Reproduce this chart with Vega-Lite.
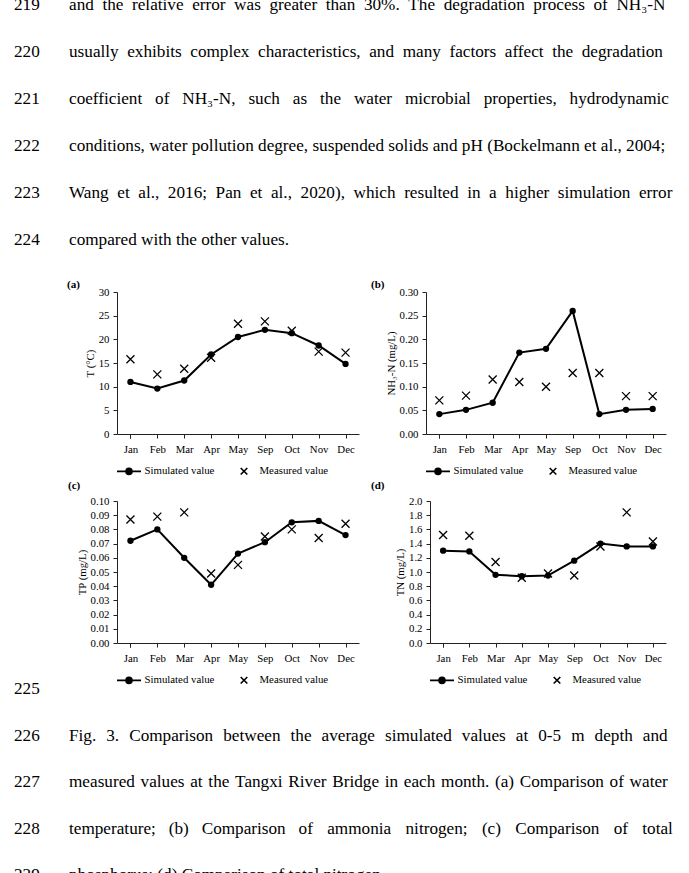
{
  "$schema": "https://vega.github.io/schema/vega-lite/v6.json",
  "padding": {"left": 14, "top": -5, "right": 0, "bottom": 0},
  "autosize": {"type": "pad"},
  "background": "white",
  "config": {
    "font": "Liberation Serif",
    "view": {"stroke": null},
    "axis": {
      "domainColor": "#222", "tickColor": "#222", "labelColor": "#000", "titleColor": "#000",
      "labelFont": "Liberation Serif", "titleFont": "Liberation Serif",
      "labelFontSize": 10.8, "titleFontSize": 10.8, "titleFontWeight": "normal",
      "grid": false, "tickSize": 4, "labelPadding": 4, "titlePadding": 3
    },
    "axisX": {"labelAngle": 0, "tickBand": "extent", "title": null, "labelPadding": 5},
    "legend": {
      "orient": "bottom", "direction": "horizontal", "title": null,
      "labelFont": "Liberation Serif", "labelFontSize": 10.8, "labelColor": "#000",
      "symbolSize": 144, "labelOffset": 8.5, "columnPadding": 22, "offset": 5, "padding": 5,
      "symbolStrokeColor": "black", "symbolStrokeWidth": 1.6
    },
    "title": {"font": "Liberation Serif", "color": "#000", "fontWeight": "normal"},
    "concat": {"spacing": 12}
  },
  "datasets": {
    "T": [
      {"month": "Jan", "series": "Simulated value", "value": 11.0},
      {"month": "Feb", "series": "Simulated value", "value": 9.6},
      {"month": "Mar", "series": "Simulated value", "value": 11.3},
      {"month": "Apr", "series": "Simulated value", "value": 16.8},
      {"month": "May", "series": "Simulated value", "value": 20.5},
      {"month": "Sep", "series": "Simulated value", "value": 22.0},
      {"month": "Oct", "series": "Simulated value", "value": 21.3},
      {"month": "Nov", "series": "Simulated value", "value": 18.7},
      {"month": "Dec", "series": "Simulated value", "value": 14.8},
      {"month": "Jan", "series": "Measured value", "value": 15.8},
      {"month": "Feb", "series": "Measured value", "value": 12.6},
      {"month": "Mar", "series": "Measured value", "value": 13.8},
      {"month": "Apr", "series": "Measured value", "value": 16.1},
      {"month": "May", "series": "Measured value", "value": 23.3},
      {"month": "Sep", "series": "Measured value", "value": 23.8},
      {"month": "Oct", "series": "Measured value", "value": 21.8},
      {"month": "Nov", "series": "Measured value", "value": 17.4},
      {"month": "Dec", "series": "Measured value", "value": 17.2}
    ],
    "NH3N": [
      {"month": "Jan", "series": "Simulated value", "value": 0.042},
      {"month": "Feb", "series": "Simulated value", "value": 0.051},
      {"month": "Mar", "series": "Simulated value", "value": 0.066},
      {"month": "Apr", "series": "Simulated value", "value": 0.172},
      {"month": "May", "series": "Simulated value", "value": 0.180},
      {"month": "Sep", "series": "Simulated value", "value": 0.260},
      {"month": "Oct", "series": "Simulated value", "value": 0.042},
      {"month": "Nov", "series": "Simulated value", "value": 0.051},
      {"month": "Dec", "series": "Simulated value", "value": 0.053},
      {"month": "Jan", "series": "Measured value", "value": 0.071},
      {"month": "Feb", "series": "Measured value", "value": 0.081},
      {"month": "Mar", "series": "Measured value", "value": 0.115},
      {"month": "Apr", "series": "Measured value", "value": 0.110},
      {"month": "May", "series": "Measured value", "value": 0.100},
      {"month": "Sep", "series": "Measured value", "value": 0.129},
      {"month": "Oct", "series": "Measured value", "value": 0.129},
      {"month": "Nov", "series": "Measured value", "value": 0.080},
      {"month": "Dec", "series": "Measured value", "value": 0.080}
    ],
    "TP": [
      {"month": "Jan", "series": "Simulated value", "value": 0.072},
      {"month": "Feb", "series": "Simulated value", "value": 0.080},
      {"month": "Mar", "series": "Simulated value", "value": 0.060},
      {"month": "Apr", "series": "Simulated value", "value": 0.041},
      {"month": "May", "series": "Simulated value", "value": 0.063},
      {"month": "Sep", "series": "Simulated value", "value": 0.071},
      {"month": "Oct", "series": "Simulated value", "value": 0.085},
      {"month": "Nov", "series": "Simulated value", "value": 0.086},
      {"month": "Dec", "series": "Simulated value", "value": 0.076},
      {"month": "Jan", "series": "Measured value", "value": 0.087},
      {"month": "Feb", "series": "Measured value", "value": 0.089},
      {"month": "Mar", "series": "Measured value", "value": 0.092},
      {"month": "Apr", "series": "Measured value", "value": 0.049},
      {"month": "May", "series": "Measured value", "value": 0.055},
      {"month": "Sep", "series": "Measured value", "value": 0.075},
      {"month": "Oct", "series": "Measured value", "value": 0.080},
      {"month": "Nov", "series": "Measured value", "value": 0.074},
      {"month": "Dec", "series": "Measured value", "value": 0.084}
    ],
    "TN": [
      {"month": "Jan", "series": "Simulated value", "value": 1.30},
      {"month": "Feb", "series": "Simulated value", "value": 1.29},
      {"month": "Mar", "series": "Simulated value", "value": 0.96},
      {"month": "Apr", "series": "Simulated value", "value": 0.94},
      {"month": "May", "series": "Simulated value", "value": 0.95},
      {"month": "Sep", "series": "Simulated value", "value": 1.16},
      {"month": "Oct", "series": "Simulated value", "value": 1.40},
      {"month": "Nov", "series": "Simulated value", "value": 1.36},
      {"month": "Dec", "series": "Simulated value", "value": 1.36},
      {"month": "Jan", "series": "Measured value", "value": 1.52},
      {"month": "Feb", "series": "Measured value", "value": 1.51},
      {"month": "Mar", "series": "Measured value", "value": 1.14},
      {"month": "Apr", "series": "Measured value", "value": 0.92},
      {"month": "May", "series": "Measured value", "value": 0.98},
      {"month": "Sep", "series": "Measured value", "value": 0.95},
      {"month": "Oct", "series": "Measured value", "value": 1.36},
      {"month": "Nov", "series": "Measured value", "value": 1.84},
      {"month": "Dec", "series": "Measured value", "value": 1.43}
    ]
  },
  "title": {
    "text": [
      "219\u2003\u2002\u2009and \u2005the \u2005relative \u2005error \u2005was \u2005greater \u2005than \u200530%. \u2005The \u2005degradation \u2005process \u2005of \u2005NH\u2083-N",
      "220\u2003\u2002\u2009usually \u2005exhibits \u2005complex \u2005characteristics, \u2005and \u2005many \u2005factors \u2005affect \u2005the \u2005degradation",
      "221\u2003\u2002\u2009coefficient \u2002of \u2002NH\u2083-N, \u2002such \u2002as \u2002the \u2002water \u2002microbial \u2002properties, \u2002hydrodynamic",
      "222\u2003\u2002\u2009conditions, water pollution degree, suspended solids and pH (Bockelmann et al., 2004;",
      "223\u2003\u2002\u2009Wang \u2005et \u2005al., \u20052016; \u2005Pan \u2005et \u2005al., \u20052020), \u2005which \u2005resulted \u2005in \u2005a \u2005higher \u2005simulation \u2005error",
      "224\u2003\u2002\u2009compared with the other values."
    ],
    "anchor": "start", "frame": "bounds", "fontSize": 17.2, "lineHeight": 47, "offset": 31, "dx": 0
  },
  "resolve": {"scale": {"shape": "independent"}, "legend": {"shape": "independent"}},
  "spacing": -3,
  "vconcat": [
    {
      "resolve": {"scale": {"shape": "independent"}, "legend": {"shape": "independent"}},
      "spacing": 12,
      "hconcat": [
        {
          "width": 242, "height": 142,
          "title": {"text": "(a)", "anchor": "start", "frame": "group", "dx": -50, "offset": -4, "fontWeight": "bold", "fontSize": 11},
          "data": {"name": "T"},
          "encoding": {
            "x": {"field": "month", "type": "ordinal", "sort": ["Jan","Feb","Mar","Apr","May","Sep","Oct","Nov","Dec"], "scale": {"paddingInner": 0, "paddingOuter": 0}},
            "y": {"field": "value", "type": "quantitative", "scale": {"domain": [0, 30], "nice": false}, "axis": {"values": [0,5,10,15,20,25,30], "title": "T (\u00b0C)"}}
          },
          "layer": [
            {"transform": [{"filter": "datum.series === 'Simulated value'"}], "mark": {"type": "line", "stroke": "black", "strokeWidth": 2}},
            {"transform": [{"filter": "datum.series === 'Simulated value'"}], "mark": {"type": "point", "shape": "circle", "filled": true, "color": "black", "size": 40, "opacity": 1}},
            {"transform": [{"filter": "datum.series === 'Measured value'"}], "mark": {"type": "point", "shape": "M-1,-1L1,1M-1,1L1,-1", "filled": false, "color": "black", "strokeWidth": 1.3, "size": 64, "opacity": 1}},
            {"transform": [{"filter": "false"}], "mark": {"type": "point", "filled": false, "color": "black", "strokeWidth": 1.6, "opacity": 1},
             "encoding": {"shape": {"field": "series", "type": "nominal",
               "scale": {"domain": ["Simulated value", "Measured value"], "range": ["M-2,0L2,0M0.5,0A0.5,0.5,0,1,1,-0.5,0A0.5,0.5,0,1,1,0.5,0M0.3,0A0.3,0.3,0,1,1,-0.3,0A0.3,0.3,0,1,1,0.3,0M0.12,0A0.12,0.12,0,1,1,-0.12,0A0.12,0.12,0,1,1,0.12,0", "M-0.55,-0.55L0.55,0.55M-0.55,0.55L0.55,-0.55"]},
               "legend": {"encode": {"symbols": {"stroke": {"value": "black"}, "strokeWidth": {"value": 1.6}, "opacity": {"value": 1}}}}}}}
          ]
        },
        {
          "width": 240, "height": 142,
          "title": {"text": "(b)", "anchor": "start", "frame": "group", "dx": -55, "offset": -4, "fontWeight": "bold", "fontSize": 11},
          "data": {"name": "NH3N"},
          "encoding": {
            "x": {"field": "month", "type": "ordinal", "sort": ["Jan","Feb","Mar","Apr","May","Sep","Oct","Nov","Dec"], "scale": {"paddingInner": 0, "paddingOuter": 0}},
            "y": {"field": "value", "type": "quantitative", "scale": {"domain": [0, 0.3], "nice": false}, "axis": {"values": [0,0.05,0.1,0.15,0.2,0.25,0.3], "format": ".2f", "title": "NH\u2083-N (mg/L)"}}
          },
          "layer": [
            {"transform": [{"filter": "datum.series === 'Simulated value'"}], "mark": {"type": "line", "stroke": "black", "strokeWidth": 2}},
            {"transform": [{"filter": "datum.series === 'Simulated value'"}], "mark": {"type": "point", "shape": "circle", "filled": true, "color": "black", "size": 40, "opacity": 1}},
            {"transform": [{"filter": "datum.series === 'Measured value'"}], "mark": {"type": "point", "shape": "M-1,-1L1,1M-1,1L1,-1", "filled": false, "color": "black", "strokeWidth": 1.3, "size": 64, "opacity": 1}},
            {"transform": [{"filter": "false"}], "mark": {"type": "point", "filled": false, "color": "black", "strokeWidth": 1.6, "opacity": 1},
             "encoding": {"shape": {"field": "series", "type": "nominal",
               "scale": {"domain": ["Simulated value", "Measured value"], "range": ["M-2,0L2,0M0.5,0A0.5,0.5,0,1,1,-0.5,0A0.5,0.5,0,1,1,0.5,0M0.3,0A0.3,0.3,0,1,1,-0.3,0A0.3,0.3,0,1,1,0.3,0M0.12,0A0.12,0.12,0,1,1,-0.12,0A0.12,0.12,0,1,1,0.12,0", "M-0.55,-0.55L0.55,0.55M-0.55,0.55L0.55,-0.55"]},
               "legend": {"encode": {"symbols": {"stroke": {"value": "black"}, "strokeWidth": {"value": 1.6}, "opacity": {"value": 1}}}}}}}
          ]
        }
      ]
    },
    {
      "resolve": {"scale": {"shape": "independent"}, "legend": {"shape": "independent"}},
      "spacing": 12,
      "title": {
        "text": [
          "225",
          "226\u2003\u2002\u2009Fig. \u20043. \u2004Comparison \u2004between \u2004the \u2004average \u2004simulated \u2004values \u2004at \u20040-5 \u2004m \u2004depth \u2004and",
          "227\u2003\u2002\u2009measured \u200avalues \u200aat \u200athe \u200aTangxi \u200aRiver \u200aBridge \u200ain \u200aeach \u200amonth. \u200a(a) \u200aComparison \u200aof \u200awater",
          "228\u2003\u2002\u2009temperature; \u2002(b) \u2002Comparison \u2002of \u2002\u200aammonia \u2002\u200anitrogen; \u2002\u200a(c) \u2002\u200aComparison \u2002\u200aof \u2002\u200atotal",
          "229\u2003\u2002\u2009phosphorus; (d) Comparison of total nitrogen."
        ],
        "orient": "bottom", "anchor": "start", "frame": "bounds", "fontSize": 17.2, "lineHeight": 46.5, "offset": -12, "dx": -54
      },
      "hconcat": [
        {
          "width": 242, "height": 142,
          "title": {"text": "(c)", "anchor": "start", "frame": "group", "dx": -49, "offset": 4, "fontWeight": "bold", "fontSize": 11},
          "data": {"name": "TP"},
          "encoding": {
            "x": {"field": "month", "type": "ordinal", "sort": ["Jan","Feb","Mar","Apr","May","Sep","Oct","Nov","Dec"], "scale": {"paddingInner": 0, "paddingOuter": 0}},
            "y": {"field": "value", "type": "quantitative", "scale": {"domain": [0, 0.1], "nice": false}, "axis": {"values": [0,0.01,0.02,0.03,0.04,0.05,0.06,0.07,0.08,0.09,0.1], "format": ".2f", "title": "TP (mg/L)"}}
          },
          "layer": [
            {"transform": [{"filter": "datum.series === 'Simulated value'"}], "mark": {"type": "line", "stroke": "black", "strokeWidth": 2}},
            {"transform": [{"filter": "datum.series === 'Simulated value'"}], "mark": {"type": "point", "shape": "circle", "filled": true, "color": "black", "size": 40, "opacity": 1}},
            {"transform": [{"filter": "datum.series === 'Measured value'"}], "mark": {"type": "point", "shape": "M-1,-1L1,1M-1,1L1,-1", "filled": false, "color": "black", "strokeWidth": 1.3, "size": 64, "opacity": 1}},
            {"transform": [{"filter": "false"}], "mark": {"type": "point", "filled": false, "color": "black", "strokeWidth": 1.6, "opacity": 1},
             "encoding": {"shape": {"field": "series", "type": "nominal",
               "scale": {"domain": ["Simulated value", "Measured value"], "range": ["M-2,0L2,0M0.5,0A0.5,0.5,0,1,1,-0.5,0A0.5,0.5,0,1,1,0.5,0M0.3,0A0.3,0.3,0,1,1,-0.3,0A0.3,0.3,0,1,1,0.3,0M0.12,0A0.12,0.12,0,1,1,-0.12,0A0.12,0.12,0,1,1,0.12,0", "M-0.55,-0.55L0.55,0.55M-0.55,0.55L0.55,-0.55"]},
               "legend": {"encode": {"symbols": {"stroke": {"value": "black"}, "strokeWidth": {"value": 1.6}, "opacity": {"value": 1}}}}}}}
          ]
        },
        {
          "width": 236, "height": 142,
          "title": {"text": "(d)", "anchor": "start", "frame": "group", "dx": -59, "offset": 4, "fontWeight": "bold", "fontSize": 11},
          "data": {"name": "TN"},
          "encoding": {
            "x": {"field": "month", "type": "ordinal", "sort": ["Jan","Feb","Mar","Apr","May","Sep","Oct","Nov","Dec"], "scale": {"paddingInner": 0, "paddingOuter": 0}},
            "y": {"field": "value", "type": "quantitative", "scale": {"domain": [0, 2], "nice": false}, "axis": {"values": [0,0.2,0.4,0.6,0.8,1,1.2,1.4,1.6,1.8,2], "format": ".1f", "title": "TN (mg/L)"}}
          },
          "layer": [
            {"transform": [{"filter": "datum.series === 'Simulated value'"}], "mark": {"type": "line", "stroke": "black", "strokeWidth": 2}},
            {"transform": [{"filter": "datum.series === 'Simulated value'"}], "mark": {"type": "point", "shape": "circle", "filled": true, "color": "black", "size": 40, "opacity": 1}},
            {"transform": [{"filter": "datum.series === 'Measured value'"}], "mark": {"type": "point", "shape": "M-1,-1L1,1M-1,1L1,-1", "filled": false, "color": "black", "strokeWidth": 1.3, "size": 64, "opacity": 1}},
            {"transform": [{"filter": "false"}], "mark": {"type": "point", "filled": false, "color": "black", "strokeWidth": 1.6, "opacity": 1},
             "encoding": {"shape": {"field": "series", "type": "nominal",
               "scale": {"domain": ["Simulated value", "Measured value"], "range": ["M-2,0L2,0M0.5,0A0.5,0.5,0,1,1,-0.5,0A0.5,0.5,0,1,1,0.5,0M0.3,0A0.3,0.3,0,1,1,-0.3,0A0.3,0.3,0,1,1,0.3,0M0.12,0A0.12,0.12,0,1,1,-0.12,0A0.12,0.12,0,1,1,0.12,0", "M-0.55,-0.55L0.55,0.55M-0.55,0.55L0.55,-0.55"]},
               "legend": {"encode": {"symbols": {"stroke": {"value": "black"}, "strokeWidth": {"value": 1.6}, "opacity": {"value": 1}}}}}}}
          ]
        }
      ]
    }
  ]
}
